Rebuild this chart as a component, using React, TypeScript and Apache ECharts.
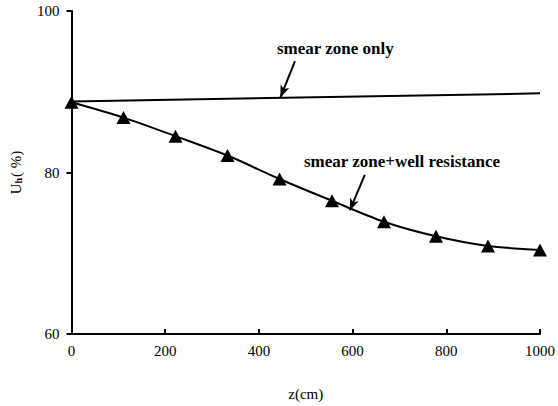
import React, { useEffect, useRef } from "react";
import * as echarts from "echarts";

// z (cm) positions of the measured points
const zValues = [0, 111, 222, 333, 444, 556, 667, 778, 889, 1000];
// U_h (%) with smear zone + well resistance
const uhWellResistance = [88.7, 86.8, 84.5, 82.1, 79.2, 76.5, 73.9, 72.1, 70.9, 70.4];
// U_h (%) with smear zone only
const smearOnlyZ = [0, 1000];
const smearOnlyUh = [88.8, 89.8];

const labelSmearOnly = "smear zone only";
const labelWellRes = "smear zone+well resistance";

// arrow annotations [from, to] in data coordinates
const arrowSmearOnly = [[477, 93.8], [446, 89.3]];
const arrowWellRes = [[626, 79.7], [594, 75.3]];

const FONT = "'Liberation Serif', 'DejaVu Serif', serif";

export default function App() {
  const ref = useRef<HTMLDivElement>(null);
  useEffect(() => {
    if (!ref.current) return;
    const chart = echarts.init(ref.current, undefined, { renderer: "svg" });
    chart.setOption({
      animation: false,
      backgroundColor: "#ffffff",
      grid: { left: 66, right: 15, top: 11, bottom: 70 },
      xAxis: {
        type: "value",
        min: 0,
        max: 1000,
        interval: 200,
        name: "z(cm)",
        nameLocation: "middle",
        nameGap: 52,
        nameTextStyle: { fontFamily: FONT, fontSize: 15, color: "#000" },
        axisLine: { lineStyle: { color: "#000", width: 2 } },
        axisTick: { inside: true, length: 5, lineStyle: { color: "#000", width: 2 } },
        axisLabel: {
          fontFamily: FONT,
          fontSize: 15,
          color: "#000",
          margin: 9,
          formatter: (v: number) => String(v),
        },
        splitLine: { show: false },
      },
      yAxis: {
        type: "value",
        min: 60,
        max: 100,
        interval: 20,
        name: "U{sub|h}( %)",
        nameLocation: "middle",
        nameGap: 48,
        nameTextStyle: {
          fontFamily: FONT,
          fontSize: 15,
          color: "#000",
          rich: {
            sub: { fontFamily: FONT, fontSize: 10, fontWeight: "bold", color: "#000", padding: [6, 1, 0, 0] },
          },
        },
        axisLine: { lineStyle: { color: "#000", width: 2 } },
        axisTick: { inside: false, length: 5, lineStyle: { color: "#000", width: 2 } },
        axisLabel: { fontFamily: FONT, fontSize: 15, color: "#000", margin: 12 },
        splitLine: { show: false },
      },
      series: [
        {
          type: "line",
          data: smearOnlyZ.map((z, i) => [z, smearOnlyUh[i]]),
          symbol: "none",
          lineStyle: { color: "#000", width: 2 },
          silent: true,
          markLine: {
            silent: true,
            symbol: ["none", "arrow"],
            symbolSize: [7, 12],
            label: { show: false },
            lineStyle: { color: "#000", width: 2, type: "solid" },
            data: [
              [{ coord: arrowSmearOnly[0] }, { coord: arrowSmearOnly[1] }],
              [{ coord: arrowWellRes[0] }, { coord: arrowWellRes[1] }],
            ],
          },
        },
        {
          type: "line",
          data: zValues.map((z, i) => [z, uhWellResistance[i]]),
          smooth: 0.3,
          symbol: "triangle",
          symbolSize: [14, 13],
          itemStyle: { color: "#000" },
          lineStyle: { color: "#000", width: 2 },
          silent: true,
        },
      ],
      graphic: [
        {
          type: "text",
          left: 277,
          top: 40,
          style: { text: labelSmearOnly, fontFamily: FONT, fontSize: 17, fontWeight: "bold", fill: "#000" },
        },
        {
          type: "text",
          left: 304,
          top: 153,
          style: { text: labelWellRes, fontFamily: FONT, fontSize: 17, fontWeight: "bold", fill: "#000" },
        },
      ],
    });
    return () => chart.dispose();
  }, []);
  return <div ref={ref} style={{ width: 558, height: 406, position: "absolute", left: 0, top: 0 }} />;
}
